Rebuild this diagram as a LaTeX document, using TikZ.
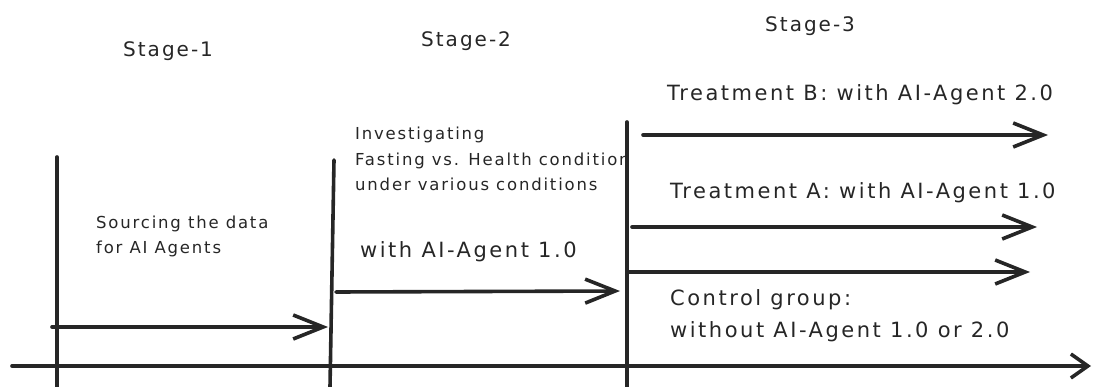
\documentclass[tikz,border=0pt]{standalone}
\usepackage{fontspec}
\setmainfont{DejaVu Sans}
\usetikzlibrary{positioning, arrows.meta}

\tikzset{
  stroke/.style={line width=3.6pt, line cap=round, black!85},
  flow/.style={stroke, -{Straight Barb[length=30pt, width=24pt, line width=3.6pt]}},
  stagelabel/.style={font=\fontsize{20}{22}\selectfont\addfontfeature{LetterSpace=10}, anchor=base west, inner sep=0, black!85},
  note/.style={font=\fontsize{16.5}{25.5}\selectfont\addfontfeature{LetterSpace=11}, align=left, anchor=base west, inner sep=0, black!85},
  label/.style={font=\fontsize{21}{32}\selectfont\addfontfeature{LetterSpace=12}, align=left, anchor=base west, inner sep=0, black!85},
}

\begin{document}
\begin{tikzpicture}[x=1pt, y=-1pt]
\useasboundingbox (0,0) rectangle (1094,387);

% Stage borders
\coordinate (oneTop) at (57,157);   \coordinate (oneBot) at (57,387);
\coordinate (twoTop) at (334,160);  \coordinate (twoBot) at (330,387);
\coordinate (threeTop) at (627,122); \coordinate (threeBot) at (627,387);

\draw[stroke] (oneTop) -- (oneBot);
\draw[stroke] (twoTop) -- (twoBot);
\draw[stroke] (threeTop) -- (threeBot);

% Time axis
\coordinate (axisStart) at (12,366);
\coordinate (axisEnd) at (1091,366);
\draw[stroke, -{Straight Barb[length=17pt, width=24pt, line width=3.6pt]}] (axisStart) -- (axisEnd);

% Stage titles
\node[stagelabel] (stageOne) at (123,57) {Stage-1};
\node[stagelabel] (stageTwo) at (421,47) {Stage-2};
\node[stagelabel] (stageThree) at (765,32) {Stage-3};

% Stage 1
\coordinate (srcStart) at (52,327);
\coordinate (srcEnd) at (328,327);
\draw[flow] (srcStart) -- (srcEnd);
\node[note] (sourcing) at (96,254) {Sourcing the data\\for AI Agents};

% Stage 2
\coordinate (invStart) at (336,292);
\coordinate (invEnd) at (620,291);
\draw[flow] (invStart) -- (invEnd);
\node[note] (investigating) at (355,191) {Investigating\\Fasting vs. Health condition\\under various conditions};
\node[label] (agentOne) at (360,258) {with AI-Agent 1.0};

% Stage 3
\coordinate (bStart) at (643,135);  \coordinate (bEnd) at (1048,135);
\coordinate (aStart) at (632,227);  \coordinate (aEnd) at (1037,227);
\coordinate (cStart) at (628,272);  \coordinate (cEnd) at (1030,272);
\draw[flow] (bStart) -- (bEnd);
\draw[flow] (aStart) -- (aEnd);
\draw[flow] (cStart) -- (cEnd);
\node[label] (treatB) at (667,101) {Treatment B: with AI-Agent 2.0};
\node[label] (treatA) at (670,199) {Treatment A: with AI-Agent 1.0};
\node[label] (control) at (670,337) {Control group:\\without AI-Agent 1.0 or 2.0};

\end{tikzpicture}
\end{document}
